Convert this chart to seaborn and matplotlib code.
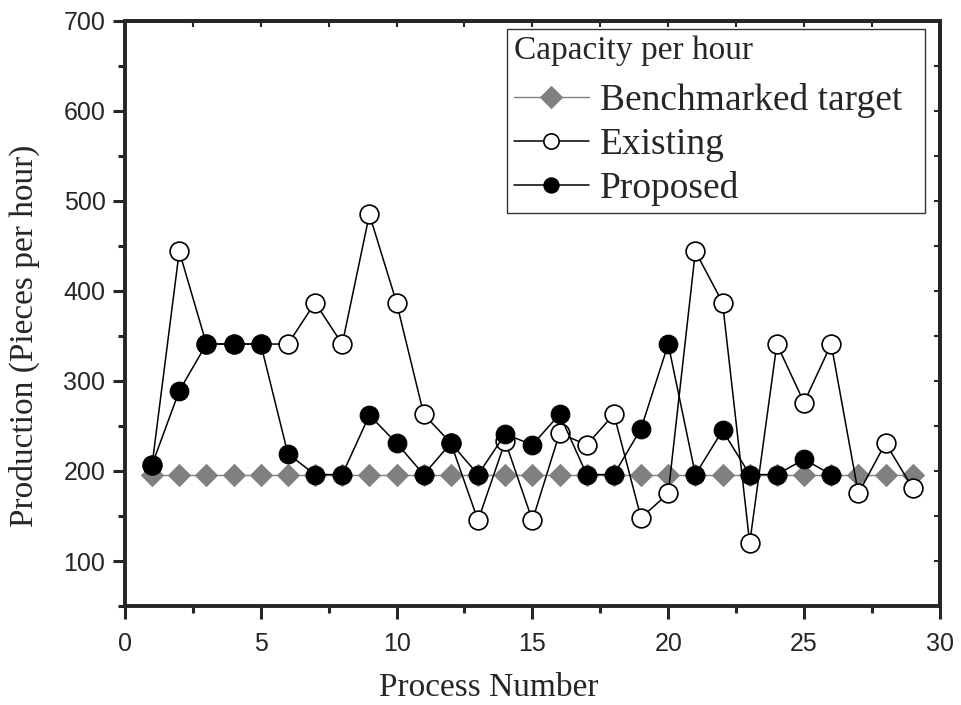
import numpy as np
import pandas as pd
import matplotlib
matplotlib.use("Agg")
import matplotlib.pyplot as plt
import seaborn as sns

# Values
process = list(range(1, 30))
benchmark = [196] * 29
existing = [207, 444, 341, 341, 341, 341, 387, 341, 485, 387,
            263, 231, 145, 233, 145, 242, 229, 263, 148, 175,
            444, 387, 120, 341, 276, 341, 175, 231, 181]
proposed = [207, 289, 341, 341, 341, 219, 196, 196, 262, 231,
            196, 231, 196, 241, 229, 263, 196, 196, 247, 341,
            196, 245, 196, 196, 213, 196]

x_ticks = [0, 5, 10, 15, 20, 25, 30]
y_ticks = [100, 200, 300, 400, 500, 600, 700]

sns.set_style("ticks")
plt.rcParams["font.family"] = ["Liberation Serif", "DejaVu Serif"]

fig = plt.figure(figsize=(9.61, 7.05), dpi=100)
ax = fig.add_axes([0.130, 0.1404, 0.848, 0.830])

sns.lineplot(x=process, y=benchmark, ax=ax, color="#808080", lw=1.0,
             marker="D", ms=11.5, mfc="#808080", mec="#808080",
             label="Benchmarked target", zorder=2)
sns.lineplot(x=process, y=existing, ax=ax, color="black", lw=1.1,
             marker="o", ms=13.5, mfc="white", mec="black", mew=1.2,
             label="Existing", zorder=3)
sns.lineplot(x=process[:len(proposed)], y=proposed, ax=ax, color="black", lw=1.1,
             marker="o", ms=13.5, mfc="black", mec="black",
             label="Proposed", zorder=4)

ax.set_xlim(0, 30)
ax.set_ylim(50, 700)
ax.set_xticks(x_ticks)
ax.set_yticks(y_ticks)
ax.set_xticks(np.arange(0, 30.1, 2.5), minor=True)
ax.set_yticks(np.arange(50, 701, 50), minor=True)

for sp in ax.spines.values():
    sp.set_visible(True)
    sp.set_linewidth(2.8)

ax.tick_params(which="major", direction="out", length=9, width=2.2,
               labelsize=18, labelfontfamily="Liberation Sans")
ax.tick_params(which="minor", direction="out", length=5, width=2.2)
ax.tick_params(axis="x", which="major", pad=10)
ax.tick_params(axis="y", which="major", pad=5)

# inward ticks on the top and right frame
top = ax.secondary_xaxis("top")
top.set_xticks(np.arange(0, 30.1, 2.5))
top.tick_params(direction="in", length=4, width=1.5, labeltop=False)
top.spines["top"].set_linewidth(2.8)
right = ax.secondary_yaxis("right")
right.set_yticks(np.arange(50, 701, 50))
right.tick_params(direction="in", length=4, width=1.5, labelright=False)
right.spines["right"].set_linewidth(2.8)

ax.set_xlabel("Process Number", fontsize=24)
ax.set_ylabel("Production (Pieces per hour)", fontsize=24)
ax.xaxis.set_label_coords(0.446, -0.113)
ax.yaxis.set_label_coords(-0.104, 0.4615)

leg = ax.legend(title="Capacity per hour", loc="upper left",
                bbox_to_anchor=(0.4687, 0.5, 0.5129, 0.4863), mode="expand",
                fontsize=27, title_fontsize=24,
                frameon=True, fancybox=False, edgecolor="black",
                handlelength=2.0, handletextpad=0.3, borderpad=0.18,
                labelspacing=0.25, borderaxespad=0.0)
leg._legend_box.align = "left"
leg._legend_box.sep = 12
leg.get_frame().set_linewidth(1.0)
leg.legend_handles[0].set_markersize(11)
leg.legend_handles[1].set_markersize(11)
leg.legend_handles[2].set_markersize(11)

fig.savefig("out.png", dpi=100)
